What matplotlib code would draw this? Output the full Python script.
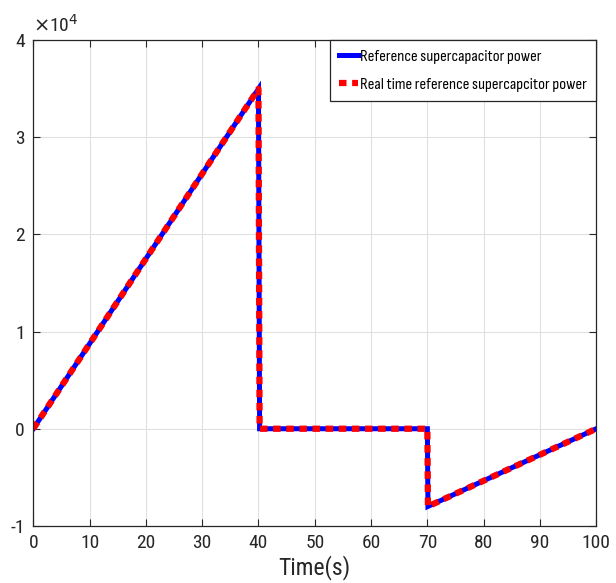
import numpy as np
import matplotlib.pyplot as plt

plt.rcParams['font.family'] = ['Liberation Sans Narrow', 'Arial Narrow', 'Roboto Condensed',
                               'Archivo Narrow', 'PT Sans Narrow', 'Sofia Sans Semi Condensed',
                               'Liberation Sans', 'DejaVu Sans']

# supercapacitor power profile (W)
time_s = [0, 40, 40.2, 70, 70.1, 100]
power_ref = [0, 35000, 0, 0, -8000, 0]
power_rt = [0, 35000, 0, 0, -8000, 0]

xticks = [0, 10, 20, 30, 40, 50, 60, 70, 80, 90, 100]
yticks = [-10000, 0, 10000, 20000, 30000, 40000]
ytick_labels = ['-1', '0', '1', '2', '3', '4']

fig = plt.figure(figsize=(6.16, 5.83), dpi=100)
ax = fig.add_axes([0.054, 0.098, 0.914, 0.833])

ax.plot(time_s, power_ref, color='#0000ff', lw=3.6, label='Reference supercapacitor power',
        solid_joinstyle='miter')
ax.plot(time_s, power_rt, color='#ff0000', lw=4.5, ls=(0, (1.2, 0.9)),
        label='Real time reference supercapcitor power')

ax.set_xlim(0, 100)
ax.set_ylim(-10000, 40000)
ax.set_xticks(xticks)
ax.set_yticks(yticks)
ax.set_yticklabels(ytick_labels)
ax.tick_params(direction='in', top=True, right=True, labelsize=14, length=5,
               width=0.8, colors='#262626', pad=6)
ax.grid(True, color='#e0e0e0', lw=0.8)
for s in ax.spines.values():
    s.set_color('#262626')
    s.set_linewidth(0.9)

ax.set_xlabel('Time(s)', fontsize=17, labelpad=2, color='#262626')
fig.text(0.054, 0.945, r'$\times$10$^4$', fontsize=14, color='#262626')

leg = ax.legend(loc='upper right', frameon=True, fancybox=False,
                prop={'family': ['Sofia Sans Condensed', 'Sofia Sans Extra Condensed',
                                 'Roboto Condensed', 'DejaVu Sans'], 'size': 12},
                edgecolor='#262626', framealpha=1, borderaxespad=0,
                handlelength=1.1, handletextpad=0.15, borderpad=0.55,
                labelspacing=0.8)
leg.get_frame().set_linewidth(0.9)

fig.savefig('out.png', dpi=100)
